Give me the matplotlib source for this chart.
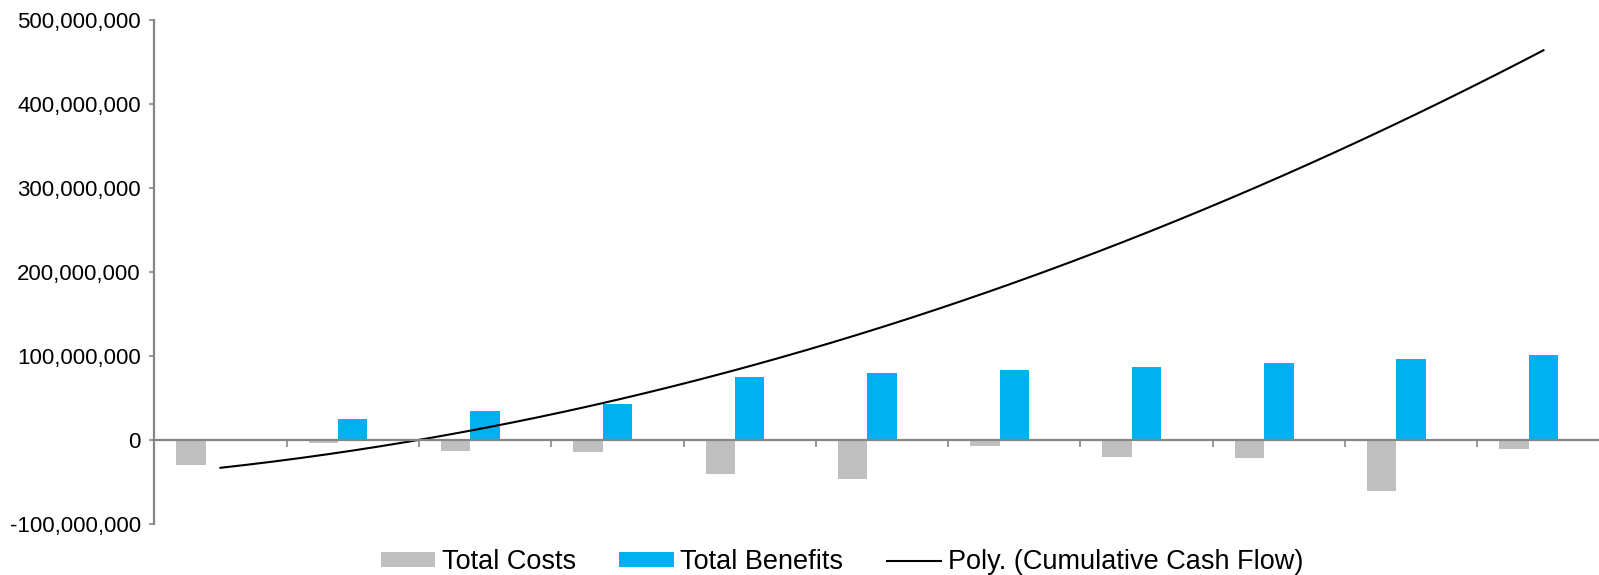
import matplotlib
matplotlib.use("Agg")
import matplotlib.pyplot as plt
import matplotlib.ticker as mticker
import numpy as np

plt.rcParams["font.family"] = ["Liberation Sans", "DejaVu Sans"]

# ── Data (values in currency units) ──────────────────────────────────────────
years = np.arange(1, 12)
total_costs = np.array([-30.0, -3.5, -12.5, -13.5, -40.0, -46.0,
                        -7.0, -20.0, -21.0, -60.5, -10.0]) * 1e6
total_benefits = np.array([0.0, 25.5, 34.5, 43.5, 75.5, 79.5,
                           83.5, 87.5, 92.0, 97.0, 102.0]) * 1e6
# trendline level at each year (2nd-order polynomial through these)
cumulative_trend = np.array([-33, -12, 15, 48, 88, 135,
                             187, 247, 313, 385, 464]) * 1e6

GREY = "#BFBFBF"
BLUE = "#00B0F0"
AXIS = "#868686"

fig = plt.figure(figsize=(15.99, 5.75), dpi=100)
ax = fig.add_axes([154.3 / 1599, 1 - 524.3 / 575,
                   (1609.6 - 154.3) / 1599, (524.3 - 20) / 575])

# three-slot group per year: costs, benefits, (hidden) cumulative
w = 1 / 4.5
h_cost = ax.bar(years - w, total_costs, width=w, color=GREY, label="Total Costs")
h_ben = ax.bar(years, total_benefits, width=w, color=BLUE, label="Total Benefits")

coef = np.polyfit(years, cumulative_trend, 2)
xs = np.linspace(years[0], years[-1], 300)
h_trend, = ax.plot(xs, np.polyval(coef, xs), color="black", lw=1.5,
                   label="Poly. (Cumulative Cash Flow)")

ax.set_xlim(0.5, 11.5)
ax.set_ylim(-100e6, 500e6)
ax.yaxis.set_major_locator(mticker.MultipleLocator(100e6))
ax.yaxis.set_major_formatter(mticker.FuncFormatter(lambda v, _: f"{v:,.0f}"))

ax.set_xticks(np.arange(1.5, 11.5, 1.0))
ax.set_xticklabels([])

for s in ("top", "right"):
    ax.spines[s].set_visible(False)
ax.spines["bottom"].set_position(("data", 0))
for s in ("left", "bottom"):
    ax.spines[s].set_color(AXIS)
    ax.spines[s].set_linewidth(1.6)

ax.tick_params(axis="y", direction="out", length=3.6, width=1.2, color=AXIS,
               labelsize=16, pad=6, labelcolor="black")
ax.tick_params(axis="x", direction="out", length=4.8, width=1.2, color=AXIS)

fig.legend(handles=[h_cost, h_ben, h_trend],
           loc="center", bbox_to_anchor=(842 / 1599, 0.022), ncol=3,
           frameon=False, fontsize=19.5, handlelength=2.0, handleheight=0.45,
           handletextpad=0.25, columnspacing=1.6)

fig.savefig("out.png", dpi=100)
